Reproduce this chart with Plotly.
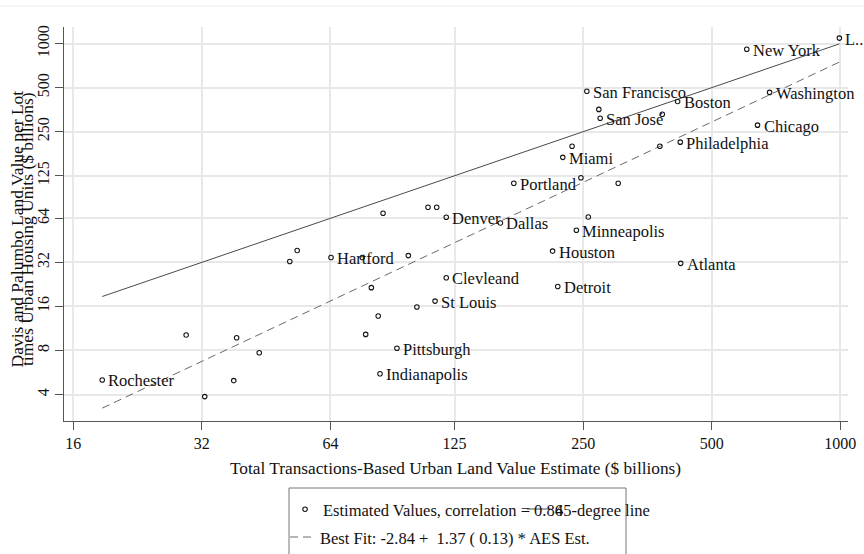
import numpy as np
import plotly.graph_objects as go

# ---- data ----
city_names = ["L..", "New York", "San Francisco", "Boston", "Washington", "San José",
              "Chicago", "Philadelphia", "Miami", "Portland", "Denver", "Dallas",
              "Minneapolis", "Houston", "Hartford", "Atlanta", "Clevleand", "Detroit",
              "St Louis", "Pittsburgh", "Indianapolis", "Rochester"]
city_x = [995, 604, 255, 416, 683, 274,
          640, 422, 224, 172, 119.5, 160,
          241, 212, 64.2, 423, 119.5, 218,
          112.5, 91.6, 83.6, 18.7]
city_y = [1090, 915, 472, 402, 464, 309,
          277, 212, 167, 111, 65, 59.5,
          53, 38.2, 34.5, 31.5, 25.1, 21.9,
          17.4, 8.28, 5.54, 5.03]

other_x = [272, 383, 378, 235.5, 247, 302, 108.3, 113.5, 85, 257,
           51.4, 53.5, 76, 97.4, 79.8, 102, 82.8, 77.4, 29.4, 38.6,
           43.6, 38.0, 32.5]
other_y = [355, 329, 199, 199, 121, 111, 76.2, 76.2, 69.3, 65.3,
           32.4, 38.6, 34.5, 35.6, 21.5, 15.85, 13.75, 10.3, 10.2, 9.78,
           7.72, 4.98, 3.87]

x_ticks = [16, 32, 64, 125, 250, 500, 1000]
y_ticks = [4, 8, 16, 32, 64, 125, 250, 500, 1000]

fit_intercept = -2.84
fit_slope = 1.37

legend_marker_text = "Estimated Values, correlation = 0.86"
legend_45_text = "45-degree line"
legend_fit_text = "Best Fit: -2.84 +  1.37 ( 0.13) * AES Est."
x_title = "Total Transactions-Based Urban Land Value Estimate ($ billions)"
y_title_1 = "Davis and Palumbo Land Value per Lot"
y_title_2 = "times Urban Housing Units ($ billions)"

# ---- figure geometry ----
W, H = 864, 554
L, R, T, B = 64, 16, 27, 133
PW, PH = W - L - R, H - T - B
FONT = "Liberation Serif, Times New Roman, serif"
TXT = "#111111"


def px(x):
    return (x - L) / PW


def py(y):
    return (H - B - y) / PH


all_x = np.array(city_x + other_x, dtype=float)
x_line = np.array([all_x.min(), all_x.max()])
y_45 = x_line
y_fit = np.exp(fit_intercept + fit_slope * np.log(x_line))

fig = go.Figure()
fig.add_trace(go.Scatter(x=x_line, y=y_45, mode="lines",
                         line=dict(color="#4a4a4a", width=1), showlegend=False,
                         hoverinfo="skip"))
fig.add_trace(go.Scatter(x=x_line, y=y_fit, mode="lines",
                         line=dict(color="#6a6a6a", width=1, dash="8px,5px"),
                         showlegend=False, hoverinfo="skip"))
fig.add_trace(go.Scatter(x=other_x + city_x, y=other_y + city_y, mode="markers",
                         marker=dict(symbol="circle-open", size=4.5, color="#151515",
                                     line=dict(width=1.1)),
                         cliponaxis=False, showlegend=False))

axis_common = dict(type="log", showgrid=True, gridcolor="#e8e8e8", gridwidth=1.5,
                   showline=True, linecolor="#555555", linewidth=1,
                   ticks="outside", ticklen=8, tickcolor="#555555", tickwidth=1,
                   zeroline=False, automargin=False,
                   tickfont=dict(family=FONT, size=16, color=TXT))

fig.update_layout(
    width=W, height=H, autosize=False,
    margin=dict(l=L, r=R, t=T, b=B, pad=0),
    paper_bgcolor="white", plot_bgcolor="white",
    xaxis=dict(axis_common, range=[np.log10(2 ** 3.9277), np.log10(2 ** 10.0257)],
               tickvals=x_ticks, ticktext=[str(v) for v in x_ticks]),
    yaxis=dict(axis_common, range=[np.log10(2 ** 1.399), np.log10(2 ** 10.342)],
               tickvals=y_ticks, ticktext=[str(v) for v in y_ticks], tickangle=-90),
    showlegend=False,
)

annotations = []
# city labels, placed in data coordinates to the right of each marker
for name, cx, cy in zip(city_names, city_x, city_y):
    annotations.append(dict(x=np.log10(cx), y=np.log10(cy), xref="x", yref="y",
                            text=name, showarrow=False, xanchor="left", yanchor="middle",
                            xshift=4, yshift=-1,
                            font=dict(family=FONT, size=16.5, color=TXT)))

paper_ann = [
    dict(x=px(455), y=py(469), text=x_title, showarrow=False, xanchor="center",
         yanchor="middle", font=dict(family=FONT, size=17.3, color=TXT)),
    dict(x=px(16.5), y=py(229), text=y_title_1, showarrow=False, textangle=-90,
         xanchor="center", yanchor="middle", font=dict(family=FONT, size=17.5, color=TXT)),
    dict(x=px(27), y=py(229), text=y_title_2, showarrow=False, textangle=-90,
         xanchor="center", yanchor="middle", font=dict(family=FONT, size=17.5, color=TXT)),
    dict(x=px(321), y=py(510), text=legend_marker_text, showarrow=False, xanchor="left",
         yanchor="middle", font=dict(family=FONT, size=16.5, color=TXT)),
    dict(x=px(553), y=py(510), text=legend_45_text, showarrow=False, xanchor="left",
         yanchor="middle", font=dict(family=FONT, size=16.5, color=TXT)),
    dict(x=px(318), y=py(538), text=legend_fit_text, showarrow=False, xanchor="left",
         yanchor="middle", font=dict(family=FONT, size=16.5, color=TXT)),
]
for a in paper_ann:
    a.update(xref="paper", yref="paper")
fig.update_layout(annotations=annotations + paper_ann)

shapes = [
    # legend box
    dict(type="rect", x0=px(289), x1=px(626), y0=py(488), y1=py(562),
         line=dict(color="#777777", width=1), fillcolor="rgba(0,0,0,0)"),
    # legend keys
    dict(type="circle", x0=px(302.8), x1=px(307.3), y0=py(507), y1=py(511.5),
         line=dict(color="#151515", width=1.1)),
    dict(type="line", x0=px(527), x1=px(551), y0=py(509), y1=py(509),
         line=dict(color="#4a4a4a", width=1)),
    dict(type="line", x0=px(290), x1=px(311), y0=py(537), y1=py(537),
         line=dict(color="#6a6a6a", width=1, dash="8px,5px")),
    # faint outer frame top
    dict(type="line", x0=px(0), x1=px(864), y0=py(6), y1=py(6),
         line=dict(color="#eeeeee", width=1)),
]
for s in shapes:
    s.update(xref="paper", yref="paper")
fig.update_layout(shapes=shapes)

fig.write_html("out.html", config={"displayModeBar": False},
               post_script="document.body.style.margin='0';document.body.style.padding='0';")
